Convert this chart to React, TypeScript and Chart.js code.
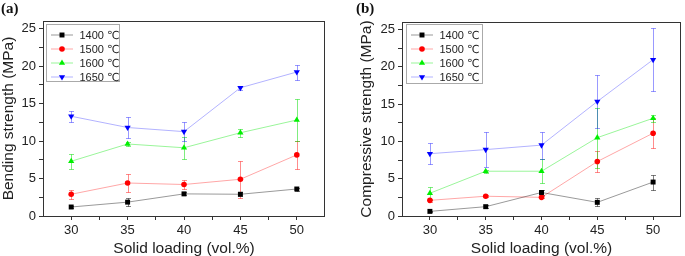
import React, { useEffect, useRef } from "react";
import { Chart, registerables } from "chart.js";

Chart.register(...registerables);

// ---------- data ----------
const solidLoading = [30, 35, 40, 45, 50];
const seriesLabels = ["1400 ℃", "1500 ℃", "1600 ℃", "1650 ℃"];

const bending1400 = [1.2, 1.85, 2.95, 2.9, 3.6];
const bending1500 = [2.9, 4.4, 4.2, 4.9, 8.15];
const bending1600 = [7.3, 9.6, 9.1, 11.1, 12.8];
const bending1650 = [13.3, 11.8, 11.25, 17.1, 19.2];
const bendingErr1400 = [0.1, 0.5, 0.2, 0.25, 0.2];
const bendingErr1500 = [0.6, 1.2, 0.6, 2.45, 1.9];
const bendingErr1600 = [1.0, 0.25, 1.5, 0.5, 2.75];
const bendingErr1650 = [0.75, 1.4, 1.25, 0.25, 1.0];

const compressive1400 = [0.62, 1.25, 3.15, 1.83, 4.55];
const compressive1500 = [2.1, 2.65, 2.5, 7.3, 11.1];
const compressive1600 = [3.05, 6.0, 6.0, 10.5, 13.1];
const compressive1650 = [8.35, 8.9, 9.5, 15.35, 20.95];
const compressiveErr1400 = [0.1, 0.2, 0.3, 0.55, 1.0];
const compressiveErr1500 = [0.2, 0.15, 0.15, 1.4, 2.0];
const compressiveErr1600 = [0.85, 0.2, 1.6, 4.0, 0.5];
const compressiveErr1650 = [1.4, 2.3, 1.8, 3.5, 4.25];

const xTickValues = [30, 32.5, 35, 37.5, 40, 42.5, 45, 47.5, 50];
const xTickLabels = ["30", "", "35", "", "40", "", "45", "", "50"];
const yTickValues = [0, 2.5, 5, 7.5, 10, 12.5, 15, 17.5, 20, 22.5, 25];
const yTickLabels = ["0", "", "5", "", "10", "", "15", "", "20", "", "25"];

// ---------- styles ----------
const markerColors = ["#000000", "#ff0000", "#00f000", "#0000ff"];
const lineColors = [
  "rgba(0,0,0,0.4)",
  "rgba(255,0,0,0.35)",
  "rgba(0,230,0,0.4)",
  "rgba(0,0,255,0.3)",
];
const errColors = [
  "rgba(0,0,0,0.5)",
  "rgba(255,0,0,0.45)",
  "rgba(0,220,0,0.5)",
  "rgba(0,0,255,0.4)",
];
const pointStyles = ["rect", "circle", "triangle", "triangle"];
const pointRotations = [0, 0, 0, 180];
const pointRadii = [3.5, 2.8, 3.6, 3.6];

const FONT = "'Liberation Sans', Arial, 'DejaVu Sans', 'Noto Sans CJK SC', sans-serif";

function drawMarker(ctx: CanvasRenderingContext2D, style: string, rot: number, r: number, x: number, y: number) {
  ctx.beginPath();
  if (style === "rect") {
    const s = r * Math.SQRT1_2;
    ctx.rect(x - s, y - s, 2 * s, 2 * s);
  } else if (style === "circle") {
    ctx.arc(x, y, r, 0, Math.PI * 2);
  } else {
    const rad = (rot * Math.PI) / 180;
    for (let k = 0; k < 3; k++) {
      const a = rad + (k * 2 * Math.PI) / 3;
      const px = x + Math.sin(a) * r;
      const py = y - Math.cos(a) * r;
      if (k === 0) ctx.moveTo(px, py);
      else ctx.lineTo(px, py);
    }
    ctx.closePath();
  }
  ctx.fill();
}

const errorBarPlugin = {
  id: "errorBars",
  beforeDatasetsDraw(chart: any, _args: any, opts: any) {
    const { ctx } = chart;
    const xs = chart.scales.x;
    const ys = chart.scales.y;
    const errs: number[][] = opts.errors;
    ctx.save();
    ctx.lineWidth = 1;
    chart.data.datasets.forEach((ds: any, i: number) => {
      ctx.strokeStyle = errColors[i];
      ds.data.forEach((p: any, j: number) => {
        const e = errs[i][j];
        const x = Math.round(xs.getPixelForValue(p.x)) + 0.5;
        const y1 = Math.round(ys.getPixelForValue(p.y - e)) + 0.5;
        const y2 = Math.round(ys.getPixelForValue(p.y + e)) + 0.5;
        ctx.beginPath();
        ctx.moveTo(x, y1);
        ctx.lineTo(x, y2);
        ctx.moveTo(x - 2.5, y1);
        ctx.lineTo(x + 2.5, y1);
        ctx.moveTo(x - 2.5, y2);
        ctx.lineTo(x + 2.5, y2);
        ctx.stroke();
      });
    });
    ctx.restore();
  },
};

const frameLegendPlugin = {
  id: "frameLegend",
  afterDraw(chart: any, _args: any, opts: any) {
    const { ctx, chartArea } = chart;
    ctx.save();
    // plot frame
    ctx.strokeStyle = "#333";
    ctx.lineWidth = 1;
    const l = Math.round(chartArea.left) + 0.5;
    const t = Math.round(chartArea.top) + 0.5;
    const r = Math.round(chartArea.right) - 0.5;
    const b = Math.round(chartArea.bottom) + 0.5;
    ctx.strokeRect(l, t, r - l, b - t);
    // legend box
    const bx = Math.round(chartArea.left + opts.offsetX) + 0.5;
    const by = Math.round(chartArea.top + opts.offsetY) + 0.5;
    const bw = opts.width;
    const bh = opts.height;
    ctx.fillStyle = "#fff";
    ctx.fillRect(bx, by, bw, bh);
    ctx.strokeStyle = "#aaa";
    ctx.strokeRect(bx, by, bw, bh);
    ctx.font = `11px ${FONT}`;
    ctx.textBaseline = "middle";
    ctx.textAlign = "left";
    chart.data.datasets.forEach((ds: any, i: number) => {
      const cy = by + 10.5 + i * 14;
      ctx.strokeStyle = lineColors[i];
      ctx.beginPath();
      ctx.moveTo(bx + 4.5, cy);
      ctx.lineTo(bx + 26.5, cy);
      ctx.stroke();
      ctx.fillStyle = markerColors[i];
      drawMarker(ctx, pointStyles[i], pointRotations[i], pointRadii[i], bx + 15.5, cy);
      ctx.fillStyle = "#222";
      ctx.fillText(ds.label, bx + 33, cy + 0.5);
    });
    ctx.restore();
  },
};

type PanelProps = {
  values: number[][];
  errors: number[][];
  yTitle: string;
  yWidth: number;
  yTitlePad: number;
  padRight: number;
  padTop: number;
  legendW: number;
  legendH: number;
  legendDX: number;
  legendDY: number;
};

function Panel(props: PanelProps) {
  const ref = useRef<HTMLCanvasElement | null>(null);
  useEffect(() => {
    if (!ref.current) return;
    const tickFont = { family: FONT, size: 13 };
    const titleFont = { family: FONT, size: 15.5, lineHeight: 1 };
    const chart = new Chart(ref.current, {
      type: "line",
      data: {
        datasets: seriesLabels.map((label, i) => ({
          label,
          data: props.values[i].map((v, j) => ({ x: solidLoading[j], y: v })),
          borderColor: lineColors[i],
          borderWidth: 1,
          pointStyle: pointStyles[i] as any,
          pointRotation: pointRotations[i],
          pointRadius: pointRadii[i],
          pointBackgroundColor: markerColors[i],
          pointBorderColor: markerColors[i],
          pointBorderWidth: 0,
          tension: 0,
        })),
      },
      options: {
        responsive: false,
        animation: false,
        devicePixelRatio: 1,
        layout: { padding: { left: 0, right: props.padRight, top: props.padTop, bottom: 0 } },
        plugins: {
          legend: { display: false },
          tooltip: { enabled: false },
          errorBars: { errors: props.errors },
          frameLegend: {
            offsetX: props.legendDX,
            offsetY: props.legendDY,
            width: props.legendW,
            height: props.legendH,
          },
        } as any,
        scales: {
          x: {
            type: "linear",
            min: 27.5,
            max: 52.5,
            afterBuildTicks: (s: any) => {
              s.ticks = xTickValues.map((v) => ({ value: v }));
            },
            afterFit: (s: any) => {
              s.height = 40;
            },
            ticks: {
              autoSkip: false,
              maxRotation: 0,
              padding: 3,
              color: "#222",
              font: tickFont,
              callback: (v: any) => {
                const k = xTickValues.indexOf(Number(v));
                return k >= 0 ? xTickLabels[k] : "";
              },
            },
            grid: { drawOnChartArea: false, drawTicks: true, tickLength: 4, color: "#333" },
            border: { display: false },
            title: {
              display: true,
              text: "Solid loading (vol.%)",
              color: "#222",
              font: titleFont,
              padding: { top: 0, bottom: 0 },
            },
          },
          y: {
            type: "linear",
            min: 0,
            max: 26,
            afterBuildTicks: (s: any) => {
              s.ticks = yTickValues.map((v) => ({ value: v }));
            },
            afterFit: (s: any) => {
              s.width = props.yWidth;
            },
            ticks: {
              autoSkip: false,
              padding: 3,
              color: "#222",
              font: tickFont,
              callback: (v: any) => {
                const k = yTickValues.indexOf(Number(v));
                return k >= 0 ? yTickLabels[k] : "";
              },
            },
            grid: { drawOnChartArea: false, drawTicks: true, tickLength: 4, color: "#333" },
            border: { display: false },
            title: {
              display: true,
              text: props.yTitle,
              color: "#222",
              font: titleFont,
              padding: { top: props.yTitlePad, bottom: 0 },
            },
          },
        },
      } as any,
      plugins: [errorBarPlugin, frameLegendPlugin],
    });
    return () => chart.destroy();
  }, []);
  return <canvas ref={ref} width={340} height={256} style={{ display: "block", width: 340, height: 256 }} />;
}

const panelLabelStyle: React.CSSProperties = {
  position: "absolute",
  top: 0,
  font: "bold 15px 'Liberation Serif', 'Times New Roman', serif",
  color: "#111",
  lineHeight: "16px",
};

export default function App() {
  return (
    <div style={{ position: "fixed", left: 0, top: 0, width: 685, height: 256, background: "#fff", overflow: "hidden" }}>
      <div style={{ position: "absolute", left: 0, top: 0 }}>
        <Panel
          values={[bending1400, bending1500, bending1600, bending1650]}
          errors={[bendingErr1400, bendingErr1500, bendingErr1600, bendingErr1650]}
          yTitle="Bending strength (MPa)"
          yWidth={43}
          yTitlePad={0.5}
          padRight={15}
          padTop={21}
          legendW={73}
          legendH={57}
          legendDX={3}
          legendDY={3}
        />
      </div>
      <div style={{ position: "absolute", left: 345, top: 0 }}>
        <Panel
          values={[compressive1400, compressive1500, compressive1600, compressive1650]}
          errors={[compressiveErr1400, compressiveErr1500, compressiveErr1600, compressiveErr1650]}
          yTitle="Compressive strength (MPa)"
          yWidth={57}
          yTitlePad={13.5}
          padRight={1}
          padTop={22}
          legendW={76}
          legendH={59}
          legendDX={3.5}
          legendDY={1.5}
        />
      </div>
      <div style={{ ...panelLabelStyle, left: 1 }}>(a)</div>
      <div style={{ ...panelLabelStyle, left: 356 }}>(b)</div>
    </div>
  );
}
